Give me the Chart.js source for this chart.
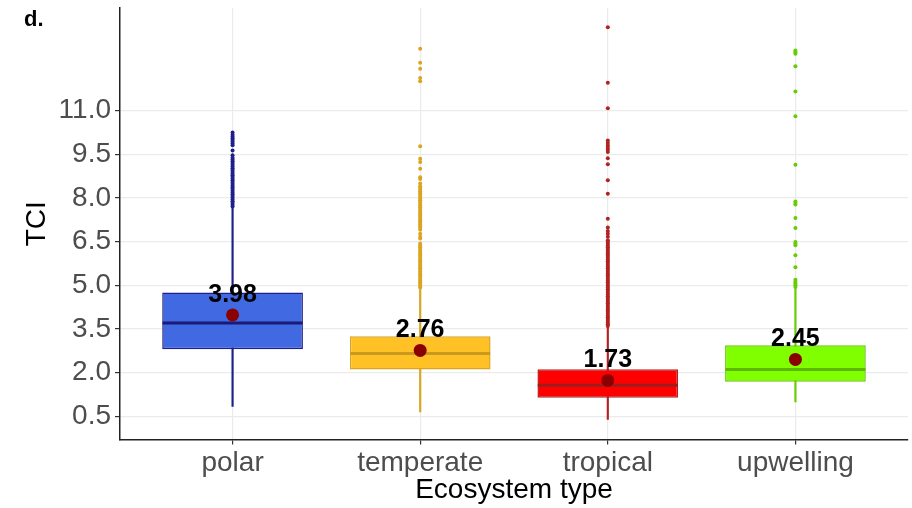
<!DOCTYPE html>
<html>
<head>
<meta charset="utf-8">
<script src="https://cdn.jsdelivr.net/npm/chart.js@4.4.1/dist/chart.umd.min.js"></script>
<style>
    html, body { margin: 0; padding: 0; background: #ffffff; }
    #wrap { width: 912px; height: 508px; }
</style>
</head>
<body>
<div id="wrap"><canvas id="tciChart" width="912" height="508"></canvas></div>
<script>
// ==================== DATA ====================

var categories = ["polar", "temperate", "tropical", "upwelling"];

var whiskerLow  = [0.84, 0.65, 0.39, 0.99];
var q1          = [2.80, 2.10, 1.13, 1.68];
var medians     = [3.70, 2.65, 1.56, 2.10];
var q3          = [4.75, 3.25, 2.11, 2.94];
var whiskerHigh = [7.68, 4.88, 3.56, 4.88];
var means       = [3.98, 2.76, 1.73, 2.45];

var outliersPolar = [7.70, 7.76, 7.82, 7.88, 7.94, 8.00, 8.06, 8.12, 8.18, 8.24, 8.30, 8.36,
    8.42, 8.48, 8.54, 8.60, 8.66, 8.72, 8.78, 8.84, 8.90, 8.96, 9.02, 9.08, 9.14, 9.20,
    9.26, 9.32, 9.38, 9.46, 9.63, 9.81, 9.87, 9.93, 9.99, 10.05, 10.11, 10.17, 10.24];

var outliersTemperate = [4.92, 4.98, 5.04, 5.10, 5.16, 5.22, 5.28, 5.34, 5.40, 5.46, 5.52,
    5.58, 5.64, 5.70, 5.76, 5.82, 5.88, 5.94, 6.00, 6.06, 6.12, 6.18, 6.24, 6.30, 6.36, 6.43,
    6.60, 6.66, 6.77, 6.90, 6.96, 7.02, 7.08, 7.14, 7.20, 7.26, 7.32, 7.38, 7.44, 7.50, 7.56,
    7.62, 7.68, 7.74, 7.80, 7.86, 7.92, 7.98, 8.04, 8.10, 8.16, 8.22, 8.28, 8.34, 8.40, 8.49,
    8.65, 8.71, 9.00, 9.23, 9.34, 9.77, 12.00, 12.12, 12.43, 12.64, 13.12];

var outliersTropical = [3.60, 3.66, 3.72, 3.78, 3.84, 3.90, 3.96, 4.02, 4.08, 4.14, 4.20,
    4.26, 4.32, 4.38, 4.44, 4.50, 4.56, 4.62, 4.68, 4.74, 4.80, 4.86, 4.92, 4.98, 5.04, 5.10,
    5.16, 5.22, 5.28, 5.34, 5.40, 5.46, 5.52, 5.58, 5.64, 5.70, 5.76, 5.82, 5.88, 5.94, 6.00,
    6.06, 6.12, 6.18, 6.24, 6.30, 6.36, 6.42, 6.48, 6.54, 6.66, 6.77, 6.86, 6.98, 7.28, 8.14,
    8.60, 9.15, 9.36, 9.57, 9.65, 9.72, 9.80, 9.88, 9.97, 11.08, 11.95, 13.86];

var outliersUpwelling = [4.94, 5.00, 5.06, 5.12, 5.19, 5.62, 6.03, 6.37, 6.43, 6.48, 6.96,
    7.31, 7.77, 7.82, 7.87, 9.14, 10.80, 11.65, 12.52, 12.95, 13.00, 13.06];

var outliers = [outliersPolar, outliersTemperate, outliersTropical, outliersUpwelling];

var yTicks = [0.5, 2.0, 3.5, 5.0, 6.5, 8.0, 9.5, 11.0];

// ==================== STYLE ====================

var fillColors = ["#4169E1", "#FFC125", "#FF0000", "#7FFF00"];
var lineColors = ["#1F1F8C", "#DAA520", "#B22222", "#66CD00"];
var medianColors = ["#1A1A78", "#C99A1E", "#A01C1C", "#5CB800"];
var meanColor = "#8B0000";
var fontFamily = "'Liberation Sans', Arial, sans-serif";

// ==================== BUILD ====================

function perCategory(fn) {
    var out = [];
    for (var i = 0; i < categories.length; i++) {
        out.push(fn(i));
    }
    return out;
}

var datasets = [];

// whiskers (thin floating bars)
datasets.push({
    type: "bar",
    label: "whisker",
    data: perCategory(function(i) { return { x: i + 1, y: [whiskerLow[i], whiskerHigh[i]] }; }),
    backgroundColor: lineColors,
    barThickness: 1.5,
    grouped: false,
    order: 5
});

// boxes q1..q3
datasets.push({
    type: "bar",
    label: "box",
    data: perCategory(function(i) { return { x: i + 1, y: [q1[i], q3[i]] }; }),
    backgroundColor: fillColors,
    borderColor: lineColors,
    borderWidth: 1.5,
    borderSkipped: false,
    barPercentage: 0.75,
    categoryPercentage: 1,
    grouped: false,
    order: 4
});

// median line across the box
datasets.push({
    type: "scatter",
    label: "median",
    data: perCategory(function(i) { return { x: i + 1, y: medians[i] }; }),
    pointStyle: "line",
    pointRadius: 70,
    pointBorderColor: medianColors,
    pointBorderWidth: 3,
    order: 3
});

for (var k = 0; k < outliers.length; k++) {
    var pts = [];
    for (var j = 0; j < outliers[k].length; j++) {
        pts.push({ x: k + 1, y: outliers[k][j] });
    }
    datasets.push({
        type: "scatter",
        label: "outliers " + categories[k],
        data: pts,
        pointRadius: 2,
        pointBackgroundColor: lineColors[k],
        pointBorderWidth: 0,
        order: 2
    });
}

datasets.push({
    type: "scatter",
    label: "mean",
    data: perCategory(function(i) { return { x: i + 1, y: means[i] }; }),
    pointRadius: 6.5,
    pointBackgroundColor: meanColor,
    pointBorderWidth: 0,
    order: 1
});

// mean value labels + panel letter
var labelPlugin = {
    id: "labelPlugin",
    afterDatasetsDraw: function(chart) {
        var ctx = chart.ctx;
        var idx = -1;
        for (var i = 0; i < chart.data.datasets.length; i++) {
            if (chart.data.datasets[i].label === "mean") idx = i;
        }
        var meta = chart.getDatasetMeta(idx);
        ctx.save();
        ctx.fillStyle = "#000000";
        ctx.font = "bold 25px " + fontFamily;
        ctx.textAlign = "center";
        ctx.textBaseline = "alphabetic";
        for (var m = 0; m < meta.data.length; m++) {
            var p = meta.data[m];
            ctx.fillText(means[m].toFixed(2), p.x, p.y - 13);
        }
        ctx.font = "bold 22px " + fontFamily;
        ctx.textAlign = "left";
        ctx.fillText("d.", 24, 26);
        ctx.restore();
    }
};

function noPadding(scale) {
    scale.paddingTop = 0;
    scale.paddingBottom = 0;
    scale.paddingLeft = 0;
    scale.paddingRight = 0;
}

var chart = new Chart(document.getElementById("tciChart"), {
    type: "bar",
    data: { datasets: datasets },
    plugins: [labelPlugin],
    options: {
        responsive: false,
        animation: false,
        events: [],
        layout: { autoPadding: false, padding: { left: 0, top: 8, right: 4, bottom: 0 } },
        plugins: {
            legend: { display: false },
            tooltip: { enabled: false }
        },
        scales: {
            x: {
                type: "linear",
                offset: false,
                min: 0.4,
                max: 4.6,
                afterBuildTicks: function(axis) {
                    axis.ticks = perCategory(function(i) { return { value: i + 1 }; });
                },
                afterFit: function(scale) { scale.height = 68.5; noPadding(scale); },
                ticks: {
                    autoSkip: false,
                    maxRotation: 0,
                    padding: 2,
                    color: "#4D4D4D",
                    font: { family: fontFamily, size: 28 },
                    callback: function(v) { return categories[Math.round(v) - 1] || ""; }
                },
                grid: { offset: false, color: "#EBEBEB", lineWidth: 1.2, tickColor: "#333333", tickLength: 5 },
                border: { color: "#222222", width: 1.5 },
                title: {
                    display: true,
                    text: "Ecosystem type",
                    color: "#000000",
                    font: { family: fontFamily, size: 28 },
                    padding: { top: 0, bottom: 1 }
                }
            },
            y: {
                type: "linear",
                min: -0.3,
                max: 14.52,
                afterBuildTicks: function(axis) {
                    axis.ticks = yTicks.map(function(v) { return { value: v }; });
                },
                afterFit: function(scale) { scale.width = 120; noPadding(scale); },
                ticks: {
                    padding: 4,
                    color: "#4D4D4D",
                    font: { family: fontFamily, size: 28 },
                    callback: function(v) { return Number(v).toFixed(1); }
                },
                grid: { color: "#EBEBEB", lineWidth: 1.2, tickColor: "#333333", tickLength: 5 },
                border: { color: "#222222", width: 1.5 },
                title: {
                    display: true,
                    text: "TCI",
                    color: "#000000",
                    font: { family: fontFamily, size: 28 },
                    padding: { top: 20, bottom: 0 }
                }
            }
        }
    }
});
</script>
</body>
</html>
